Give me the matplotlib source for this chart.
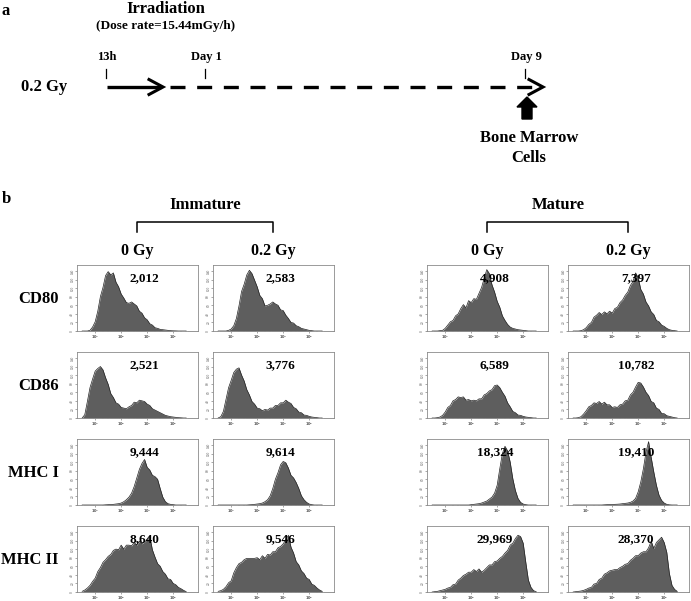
import numpy as np
import matplotlib.pyplot as plt
from matplotlib.patches import Polygon

plt.rcParams['font.family'] = 'Liberation Serif'
plt.rcParams['font.weight'] = 'bold'
plt.rcParams['lines.scale_dashes'] = False

# log10 fluorescence bin centres shared by all histograms
logx = np.round(np.arange(1.5, 5.51, 0.1), 1)

# histogram heights (% of panel height)
cd80_imm_0 = [0, 0, 0, 1, 6, 14, 30, 52, 66, 84, 90, 85, 88, 74, 67, 56, 50, 43, 42, 44, 41,
              38, 30, 27, 20, 17, 11, 9, 5, 4, 2.5, 2, 1.5, 1, 0.5, 0.3, 0.2, 0, 0, 0, 0]
cd80_imm_02 = [0, 0, 0, 0, 1, 3, 8, 19, 38, 60, 71, 85, 92, 87, 77, 67, 54, 49, 38, 39, 41,
               44, 41, 39, 32, 31, 24, 19, 13, 12, 8, 6.5, 4, 3, 2, 1, 0.5, 0, 0, 0, 0]
cd80_mat_0 = [0, 0, 0, 0.5, 1, 4, 9, 14, 16, 23, 26, 34, 40, 35, 46, 43, 49, 48, 57, 66, 80,
              93, 87, 70, 59, 45, 36, 23, 16, 10, 6, 4, 3, 2, 1.5, 1, 0.5, 0, 0, 0, 0]
cd80_mat_02 = [0, 0, 0, 0.5, 2, 5, 10, 13, 21, 24, 28, 25, 29, 26, 30, 27, 34, 36, 43, 47, 54,
               59, 69, 75, 88, 81, 63, 56, 44, 38, 29, 25, 16, 14, 9, 7, 4, 2, 1, 0.5, 0]

cd86_imm_0 = [0, 5, 25, 46, 59, 71, 75, 78, 73, 61, 51, 37, 31, 23, 21, 16, 15, 14, 17, 19, 24,
              23, 27, 26, 25, 21, 19, 14, 12, 10, 8, 6, 4, 3, 2, 1.5, 1, 0.5, 0.3, 0, 0]
cd86_imm_02 = [0, 2, 10, 28, 46, 57, 69, 74, 76, 65, 56, 43, 35, 25, 21, 15, 14, 11, 13, 12, 15,
               15, 19, 19, 23, 23, 27, 24, 22, 16, 14, 9, 8, 4.5, 4, 2.5, 1.5, 1, 0.5, 0, 0]
cd86_mat_0 = [0, 0, 0.5, 1.5, 4, 9, 16, 19, 26, 28, 32, 31, 32, 27, 28, 26, 27, 26, 29, 29, 35,
              37, 41, 43, 49, 50, 46, 39, 33, 23, 17, 10, 8, 4.5, 4, 2.5, 1.5, 1, 0.5, 0, 0]
cd86_mat_02 = [0, 0, 0.5, 2, 6, 11, 17, 19, 23, 22, 25, 21, 24, 20, 20, 16, 17, 16, 20, 21, 26,
               27, 35, 39, 47, 54, 53, 47, 39, 34, 25, 23, 15, 13, 7, 6.5, 3.5, 2.5, 1.5, 0.5, 0]

mhc1_imm_0 = [0, 0, 0, 0, 0, 0, 0, 0, 0, 0.3, 0.5, 0.8, 1, 1.5, 2, 3, 5, 8, 12, 18, 28,
              41, 54, 63, 69, 57, 53, 45, 43, 39, 25, 12, 5, 2, 1, 0.5, 0, 0, 0, 0, 0]
mhc1_imm_02 = [0, 0, 0, 0, 0, 0, 0, 0, 0, 0, 0, 0, 0.3, 0.5, 1, 1.5, 2, 3, 5, 8, 14,
               25, 39, 49, 61, 66, 64, 56, 45, 41, 34, 25, 14, 8, 4, 1.5, 0.5, 0, 0, 0, 0]
mhc1_mat_0 = [0, 0, 0, 0, 0, 0, 0, 0, 0, 0, 0, 0, 0, 0, 0, 0.5, 1, 1.5, 2, 3, 4.5,
              6, 9, 12, 18, 30, 55, 78, 89, 82, 65, 40, 22, 10, 4, 1.5, 0.5, 0, 0, 0, 0]
mhc1_mat_02 = [0, 0, 0, 0, 0, 0, 0, 0, 0, 0, 0, 0, 0.3, 0.5, 0.6, 0.8, 1, 1.2, 1.5, 2, 2.5,
               3, 4, 6, 10, 20, 35, 55, 80, 96, 72, 50, 30, 15, 7, 3, 1, 0.3, 0, 0, 0]

mhc2_imm_0 = [1, 3, 6, 10, 16, 21, 31, 37, 45, 49, 54, 57, 63, 65, 64, 71, 65, 71, 71, 70, 75,
              71, 77, 73, 76, 79, 84, 64, 53, 43, 39, 31, 27, 20, 19, 13, 11, 7, 5, 2.5, 0.5]
mhc2_imm_02 = [1, 2, 4, 8, 14, 17, 29, 37, 43, 45, 49, 51, 51, 51, 51, 52, 49, 55, 51, 57, 56,
               61, 61, 67, 69, 73, 79, 86, 68, 59, 46, 41, 32, 28, 21, 19, 12, 10, 6, 3, 1]
mhc2_mat_0 = [0, 0.5, 1, 2, 3, 4, 6, 7, 11, 12, 18, 21, 25, 27, 30, 30, 34, 31, 35, 30, 33,
              37, 41, 41, 46, 47, 51, 54, 59, 63, 71, 74, 81, 86, 84, 74, 45, 18, 7, 2, 0.5]
mhc2_mat_02 = [0, 0.5, 1, 1.5, 2.5, 4, 6, 7, 12, 13, 19, 21, 27, 29, 32, 33, 34, 34, 37, 39, 42,
               43, 48, 51, 55, 55, 59, 61, 61, 67, 77, 66, 75, 79, 83, 75, 60, 28, 10, 4, 1]

markers = ['CD80', 'CD86', 'MHC I', 'MHC II']
mfi = [['2,012', '2,583', '4,908', '7,397'],
       ['2,521', '3,776', '6,589', '10,782'],
       ['9,444', '9,614', '18,324', '19,410'],
       ['8,640', '9,546', '29,969', '28,370']]
hists = [[cd80_imm_0, cd80_imm_02, cd80_mat_0, cd80_mat_02],
         [cd86_imm_0, cd86_imm_02, cd86_mat_0, cd86_mat_02],
         [mhc1_imm_0, mhc1_imm_02, mhc1_mat_0, mhc1_mat_02],
         [mhc2_imm_0, mhc2_imm_02, mhc2_mat_0, mhc2_mat_02]]
yticks = [0, 13, 26, 39, 52, 65, 78, 91]
ytick_labels = ['0', '20', '40', '60', '80', '100', '120', '140']

W, H = 691, 601
fig = plt.figure(figsize=(W / 100, H / 100), dpi=100)

# drawing layer in pixel units for the scheme and headings
ov = fig.add_axes([0, 0, 1, 1])
ov.set_xlim(0, W)
ov.set_ylim(H, 0)
ov.axis('off')

# ---- panel a: irradiation timeline
ov.text(2, 11, 'a', ha='left', va='center', fontsize=12)
ov.text(166, 9, 'Irradiation', ha='center', va='center', fontsize=12)
ov.text(166, 26, '(Dose rate=15.44mGy/h)', ha='center', va='center', fontsize=9.5)
ov.text(44, 87, '0.2 Gy', ha='center', va='center', fontsize=12)
ov.plot([107, 161], [87, 87], color='k', lw=2.4, solid_capstyle='butt')
ov.plot([149, 163, 149], [79.5, 87, 94.5], color='k', lw=2.2, solid_joinstyle='miter')
ov.plot([170, 536], [87, 87], color='k', lw=2.4, ls=(0, (10.8, 8.4)), dash_capstyle='butt')
ov.plot([529, 543, 529], [79.5, 87, 94.5], color='k', lw=2.2, solid_joinstyle='miter')
for tx, lab in [(106, '13h'), (205, 'Day 1'), (525, 'Day 9')]:
    ov.plot([tx, tx], [69, 78], color='k', lw=0.9)
    ov.text(tx + 1, 57, lab, ha='center', va='center', fontsize=9)
ov.add_patch(Polygon([(522, 119), (532, 119), (532, 107), (537, 107), (527, 97),
                      (517, 107), (522, 107)], closed=True, color='k'))
ov.text(529, 138, 'Bone Marrow', ha='center', va='center', fontsize=12)
ov.text(529, 158, 'Cells', ha='center', va='center', fontsize=12)

# ---- panel b headings
ov.text(2, 199, 'b', ha='left', va='center', fontsize=12)
col_x = [77, 213, 427, 568]
row_y = [265, 352, 439, 526]
pw, ph = 121, 66
for grp, (c0, c1) in [('Immature', (0, 1)), ('Mature', (2, 3))]:
    xa = col_x[c0] + pw / 2
    xb = col_x[c1] + pw / 2
    ov.text((xa + xb) / 2, 205, grp, ha='center', va='center', fontsize=12)
    ov.plot([xa, xa, xb, xb], [232, 222, 222, 232], color='k', lw=1.1)
    ov.text(xa, 251, '0 Gy', ha='center', va='center', fontsize=11.5)
    ov.text(xb, 251, '0.2 Gy', ha='center', va='center', fontsize=11.5)

for r, name in enumerate(markers):
    ov.text(59, row_y[r] + ph / 2 + 1, name, ha='right', va='center', fontsize=12)

minor = [d + m for d in range(1, 6) for m in np.log10(np.arange(2, 10))]
for r in range(4):
    for c in range(4):
        x0, y0 = col_x[c], row_y[r]
        ax = fig.add_axes([x0 / W, 1 - (y0 + ph) / H, pw / W, ph / H])
        vals = hists[r][c]
        ax.fill_between(logx, 0, vals, color='#5e5e5e', lw=0)
        ax.plot(logx, vals, color='#222222', lw=0.5)
        ax.set_xlim(1.5, 5.5)
        ax.set_ylim(0, 100)
        ax.set_xticks([2, 3, 4, 5])
        ax.set_xticklabels(['$10^2$', '$10^3$', '$10^4$', '$10^5$'],
                           fontsize=2.5, fontweight='normal', color='#555555')
        ax.set_xticks(minor, minor=True)
        ax.set_yticks(yticks)
        ax.set_yticklabels(ytick_labels, fontsize=2.5, fontweight='normal',
                           color='#555555', rotation=90, va='center')
        ax.tick_params(axis='both', which='major', length=1.5, width=0.4, color='#666666', pad=0.4)
        ax.tick_params(axis='x', which='minor', length=1.0, width=0.3, color='#666666')
        for sp in ax.spines.values():
            sp.set_color('#8a8a8a')
            sp.set_linewidth(0.6)
        ax.text(0.56, 0.80, mfi[r][c], transform=ax.transAxes, ha='center', va='center',
                fontsize=9.5, zorder=5)

plt.savefig('out.png', dpi=100)
